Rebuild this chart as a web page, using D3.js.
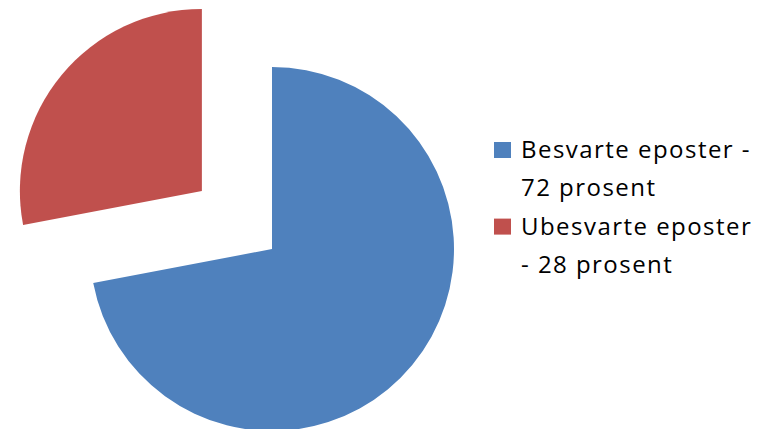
<!DOCTYPE html>
<html>
<head>
<meta charset="utf-8">
<script src="https://cdn.jsdelivr.net/npm/d3@7"></script>
<style>
  html, body { margin: 0; padding: 0; background: #fff; }
  svg { display: block; }
</style>
</head>
<body>
<svg id="chart" width="769" height="429"></svg>
<script>
const categories = ["Besvarte eposter", "Ubesvarte eposter"];
const values = [72, 28];
const legendLines = [["Besvarte eposter -", "72 prosent"], ["Ubesvarte eposter", "- 28 prosent"]];
const colors = ["#4F81BD", "#C0504D"];
const exploded = [false, true];

const svg = d3.select("#chart");
const cx = 272, cy = 249, R = 182, explodeDist = 91;

const pie = d3.pie().sort(null).value(d => d.v).startAngle(0).endAngle(2 * Math.PI);
const arcs = pie(values.map((v, i) => ({ v, i })));
const arc = d3.arc().innerRadius(0).outerRadius(R);

const g = svg.append("g").attr("transform", `translate(${cx},${cy})`);
g.selectAll("path").data(arcs).join("path")
  .attr("d", arc)
  .attr("fill", d => colors[d.data.i])
  .attr("transform", d => {
    if (!exploded[d.data.i]) return null;
    const a = (d.startAngle + d.endAngle) / 2;
    return `translate(${Math.sin(a) * explodeDist},${-Math.cos(a) * explodeDist})`;
  });

const lx = 494, ly0 = 158, lineH = 38.3, font = "Open Sans", fs = 24;
const legend = svg.append("g");
let lineIdx = 0;
const texts = [];
legendLines.forEach((lines, i) => {
  const base = ly0 + lineIdx * lineH;
  legend.append("rect")
    .attr("x", lx).attr("y", base - 16).attr("width", 17).attr("height", 16)
    .attr("fill", colors[i]);
  lines.forEach((t, j) => {
    texts.push(legend.append("text")
      .attr("x", lx + 27).attr("y", ly0 + (lineIdx + j) * lineH)
      .attr("font-family", font).attr("font-size", fs)
      .attr("fill", "#000")
      .text(t));
  });
  lineIdx += lines.length;
});
// match reference width of first line (~230px) with uniform letter spacing
const w0 = texts[0].node().getComputedTextLength();
const ls = (230 - w0) / legendLines[0][0].length;
texts.forEach(t => t.attr("letter-spacing", ls));
</script>
</body>
</html>
